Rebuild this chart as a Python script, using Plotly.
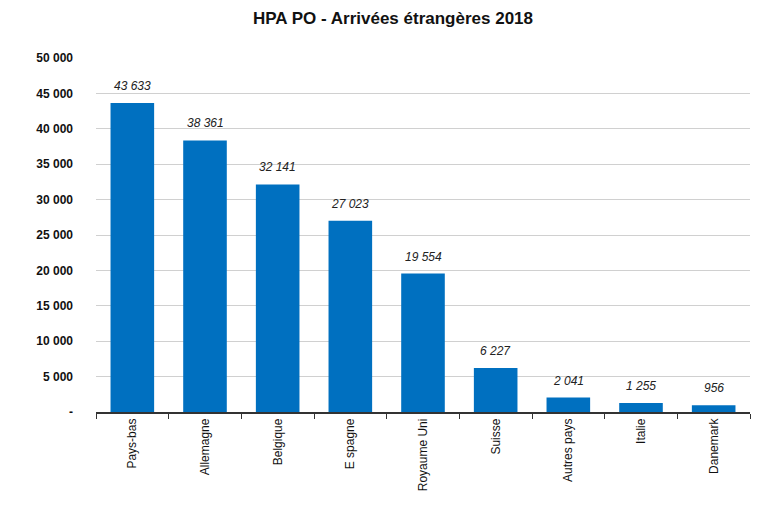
import plotly.graph_objects as go

pays = ['Pays-bas', 'Allemagne', 'Belgique', 'E spagne', 'Royaume Uni',
        'Suisse', 'Autres pays', 'Italie', 'Danemark']
arrivees = [43633, 38361, 32141, 27023, 19554, 6227, 2041, 1255, 956]
ytick_vals = [0, 5000, 10000, 15000, 20000, 25000, 30000, 35000, 40000, 45000, 50000]
ytick_text = ['-', '5 000', '10 000', '15 000', '20 000', '25 000', '30 000',
              '35 000', '40 000', '45 000', '50 000']

labels = ['{:,}'.format(v).replace(',', ' ') for v in arrivees]

fig = go.Figure()
fig.add_trace(go.Bar(
    x=pays, y=arrivees, width=0.6,
    marker=dict(color='#0070C0', line=dict(width=0)),
))

# value labels above bars
for p, v, t in zip(pays, arrivees, labels):
    fig.add_annotation(x=p, y=v, text=t, showarrow=False, yanchor='bottom', yshift=8,
                       font=dict(family='Liberation Sans, Arial', size=12, color='#222222',
                                 style='italic'))

fig.update_layout(
    width=770, height=507,
    margin=dict(l=88, r=28, t=50, b=103),
    paper_bgcolor='white', plot_bgcolor='white',
    showlegend=False,
    title=dict(text='<b>HPA PO - Arrivées étrangères 2018</b>', x=0.5, xanchor='center',
               y=0.98, yanchor='middle',
               font=dict(family='Liberation Sans, Arial', size=17, color='#111111')),
    font=dict(family='Liberation Sans, Arial', size=12, color='#111111'),
)
fig.update_yaxes(
    range=[0, 50000], tickvals=ytick_vals, ticktext=ytick_text,
    showgrid=True, gridcolor='#d0d0d0', gridwidth=1, zeroline=False,
    showline=False, ticks='', ticklabelstandoff=22,
    tickfont=dict(family='Liberation Sans, Arial', size=12, color='#111111', weight='bold'),
)
fig.update_xaxes(
    showline=True, linecolor='#333333', linewidth=1.5,
    ticks='outside', tickson='boundaries', ticklen=5, tickcolor='#333333',
    tickangle=-90, showgrid=False,
    tickfont=dict(family='Liberation Sans, Arial', size=12, color='#111111'),
)

fig.write_html('out.html')
